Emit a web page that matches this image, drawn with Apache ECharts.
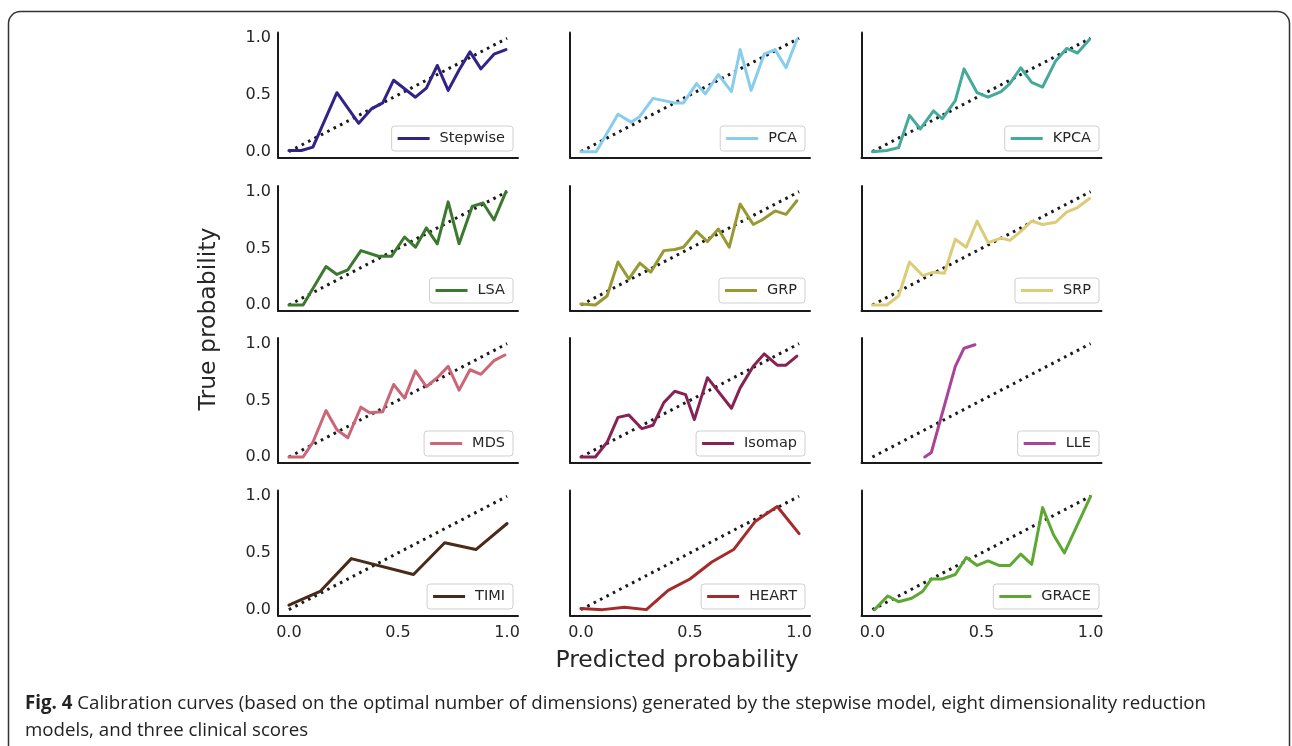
<!DOCTYPE html>
<html>
<head>
<meta charset="utf-8">
<title>Calibration curves</title>
<script src="https://cdn.jsdelivr.net/npm/echarts@6/dist/echarts.min.js"></script>
<style>
  html, body { margin: 0; padding: 0; background: #ffffff; }
  #chart { width: 1292px; height: 746px; }
</style>
</head>
<body>
<div id="chart"></div>
<script>
// Model names in panel order (row by row)
const modelNames = ['Stepwise', 'PCA', 'KPCA', 'LSA', 'GRP', 'SRP', 'MDS', 'Isomap', 'LLE', 'TIMI', 'HEART', 'GRACE'];
const modelColors = ['#332288', '#88CCEE', '#44AA99', '#3B7A2E', '#999933', '#DDCC77', '#CC6677', '#882255', '#AA4499', '#4A2A18', '#A52A2A', '#5DA832'];

// Mean predicted probability (x) and fraction of positives (y) per bin
const stepwiseX = [0.0, 0.057, 0.11, 0.22, 0.32, 0.38, 0.43, 0.48, 0.58, 0.63, 0.68, 0.73, 0.78, 0.83, 0.88, 0.94, 0.995];
const stepwiseY = [0.01, 0.01, 0.04, 0.52, 0.25, 0.38, 0.43, 0.63, 0.48, 0.56, 0.76, 0.54, 0.72, 0.88, 0.73, 0.86, 0.90];

const pcaX = [0.0, 0.07, 0.17, 0.23, 0.27, 0.33, 0.43, 0.47, 0.53, 0.57, 0.63, 0.69, 0.73, 0.78, 0.84, 0.89, 0.94, 0.99];
const pcaY = [0.0, 0.0, 0.33, 0.26, 0.31, 0.47, 0.43, 0.43, 0.60, 0.51, 0.68, 0.53, 0.90, 0.54, 0.86, 0.90, 0.74, 0.99];

const kpcaX = [0.0, 0.066, 0.12, 0.17, 0.22, 0.28, 0.32, 0.38, 0.42, 0.48, 0.53, 0.59, 0.63, 0.68, 0.73, 0.78, 0.84, 0.89, 0.94, 0.995];
const kpcaY = [0.0, 0.01, 0.035, 0.32, 0.20, 0.36, 0.29, 0.45, 0.73, 0.52, 0.48, 0.53, 0.60, 0.74, 0.61, 0.57, 0.80, 0.91, 0.87, 0.99];

const lsaX = [0.0, 0.065, 0.17, 0.22, 0.27, 0.33, 0.41, 0.47, 0.53, 0.58, 0.63, 0.68, 0.73, 0.78, 0.84, 0.89, 0.94, 0.995];
const lsaY = [0.0, 0.0, 0.34, 0.27, 0.31, 0.48, 0.43, 0.43, 0.60, 0.51, 0.68, 0.54, 0.91, 0.54, 0.87, 0.90, 0.75, 1.0];

const grpX = [0.0, 0.066, 0.12, 0.17, 0.22, 0.27, 0.32, 0.38, 0.43, 0.47, 0.53, 0.58, 0.63, 0.68, 0.73, 0.79, 0.83, 0.89, 0.94, 0.99];
const grpY = [0.01, 0.0, 0.08, 0.38, 0.23, 0.37, 0.29, 0.48, 0.49, 0.51, 0.65, 0.56, 0.67, 0.51, 0.89, 0.71, 0.75, 0.83, 0.80, 0.92];

const srpX = [0.0, 0.066, 0.12, 0.17, 0.23, 0.28, 0.33, 0.38, 0.43, 0.48, 0.53, 0.59, 0.63, 0.68, 0.73, 0.78, 0.84, 0.89, 0.94, 0.995];
const srpY = [0.0, 0.0, 0.08, 0.38, 0.26, 0.29, 0.28, 0.58, 0.51, 0.74, 0.55, 0.59, 0.57, 0.65, 0.74, 0.71, 0.73, 0.82, 0.86, 0.94];

const mdsX = [0.0, 0.065, 0.11, 0.17, 0.22, 0.27, 0.33, 0.37, 0.43, 0.48, 0.53, 0.58, 0.63, 0.68, 0.73, 0.78, 0.83, 0.88, 0.94, 0.99];
const mdsY = [0.0, 0.0, 0.13, 0.41, 0.24, 0.17, 0.44, 0.39, 0.40, 0.64, 0.52, 0.76, 0.62, 0.70, 0.80, 0.59, 0.77, 0.73, 0.85, 0.90];

const isomapX = [0.0, 0.066, 0.12, 0.17, 0.22, 0.28, 0.33, 0.38, 0.43, 0.48, 0.52, 0.58, 0.69, 0.73, 0.79, 0.84, 0.90, 0.94, 0.99];
const isomapY = [0.0, 0.0, 0.13, 0.35, 0.37, 0.25, 0.28, 0.48, 0.58, 0.55, 0.33, 0.70, 0.43, 0.61, 0.80, 0.91, 0.81, 0.81, 0.89];

const lleX = [0.24, 0.27, 0.38, 0.42, 0.47];
const lleY = [0.0, 0.04, 0.80, 0.96, 0.99];

const timiX = [0.0, 0.143, 0.286, 0.571, 0.714, 0.857, 1.0];
const timiY = [0.04, 0.16, 0.45, 0.31, 0.59, 0.53, 0.76];

const heartX = [0.0, 0.1, 0.2, 0.3, 0.4, 0.5, 0.6, 0.7, 0.8, 0.9, 1.0];
const heartY = [0.01, 0.0, 0.02, 0.0, 0.17, 0.27, 0.42, 0.53, 0.78, 0.91, 0.67];

const graceX = [0.01, 0.07, 0.12, 0.18, 0.23, 0.27, 0.32, 0.38, 0.43, 0.48, 0.53, 0.58, 0.63, 0.68, 0.73, 0.78, 0.83, 0.88, 1.0];
const graceY = [0.0, 0.12, 0.07, 0.10, 0.16, 0.27, 0.27, 0.31, 0.46, 0.39, 0.43, 0.39, 0.39, 0.49, 0.40, 0.90, 0.66, 0.50, 1.0];

const curveX = [stepwiseX, pcaX, kpcaX, lsaX, grpX, srpX, mdsX, isomapX, lleX, timiX, heartX, graceX];
const curveY = [stepwiseY, pcaY, kpcaY, lsaY, grpY, srpY, mdsY, isomapY, lleY, timiY, heartY, graceY];

// Perfect calibration diagonal
const diagonal = [[0, 0], [1, 1]];
const tickValues = [0, 0.5, 1.0];

const captionBold = 'Fig. 4';
const captionLine1 = ' Calibration curves (based on the optimal number of dimensions) generated by the stepwise model, eight dimensionality reduction';
const captionLine2 = 'models, and three clinical scores';

// Panel layout (pixels)
const colLeft = [278, 570, 861.5];
const rowTop = [32.6, 186, 338, 490.6];
const panelW = 240;
const panelH = 124.7;
const legendTop = [126, 278, 431, 584];
const legendRight = [779, 487, 193];

const font = 'DejaVu Sans';
const ink = '#262626';

const grids = [], xAxes = [], yAxes = [], series = [], legends = [];
modelNames.forEach((name, i) => {
  const r = Math.floor(i / 3), c = i % 3;
  grids.push({ left: colLeft[c], top: rowTop[r], width: panelW, height: panelH, containLabel: false });
  xAxes.push({
    type: 'value', gridIndex: i, min: -0.05, max: 1.05,
    axisLine: { show: true, onZero: false, lineStyle: { color: '#1a1a1a', width: 2 } },
    axisTick: { show: false }, splitLine: { show: false },
    axisLabel: { show: r === 3, customValues: tickValues, formatter: v => v.toFixed(1),
      fontFamily: font, fontSize: 16, color: ink, margin: 10 }
  });
  yAxes.push({
    type: 'value', gridIndex: i, min: -0.05, max: 1.05,
    axisLine: { show: true, onZero: false, lineStyle: { color: '#1a1a1a', width: 2 } },
    axisTick: { show: false }, splitLine: { show: false },
    axisLabel: { show: c === 0, customValues: tickValues, formatter: v => v.toFixed(1),
      fontFamily: font, fontSize: 16, color: ink, margin: 7 }
  });
  series.push({
    name: 'Perfectly calibrated ' + i, type: 'line', xAxisIndex: i, yAxisIndex: i,
    data: diagonal, symbol: 'none', silent: true, z: 2,
    lineStyle: { color: '#1a1a1a', width: 3, type: [2.6, 4.6], cap: 'butt' }
  });
  series.push({
    name: name, type: 'line', xAxisIndex: i, yAxisIndex: i,
    data: curveX[i].map((x, k) => [x, curveY[i][k]]),
    symbol: 'none', z: 3, color: modelColors[i],
    lineStyle: { color: modelColors[i], width: 3, join: 'round', cap: 'round' }
  });
  legends.push({
    data: [name], right: legendRight[c], top: legendTop[r], orient: 'horizontal',
    icon: 'rect', itemWidth: 32, itemHeight: 3,
    backgroundColor: 'rgba(255,255,255,0.85)', borderColor: '#cfcfcf', borderWidth: 1, borderRadius: 3,
    padding: [5, 8, 5, 6], selectedMode: false,
    textStyle: { fontFamily: font, fontSize: 14.5, color: ink, padding: [0, 0, 0, 5] }
  });
});

const chart = echarts.init(document.getElementById('chart'), null, { renderer: 'canvas' });
chart.setOption({
  backgroundColor: '#ffffff',
  animation: false,
  grid: grids, xAxis: xAxes, yAxis: yAxes, series: series, legend: legends,
  graphic: [
    { type: 'rect', z: 0, silent: true,
      shape: { x: 8.5, y: 11.5, width: 1281, height: 770, r: 12 },
      style: { fill: 'none', stroke: '#333333', lineWidth: 1.5 } },
    { type: 'text', silent: true, rotation: Math.PI / 2, x: 209, y: 319,
      style: { text: 'True probability', font: '23.5px "DejaVu Sans"', fill: ink, align: 'center', verticalAlign: 'middle' } },
    { type: 'text', silent: true, x: 677, y: 661,
      style: { text: 'Predicted probability', font: '23.5px "DejaVu Sans"', fill: ink, align: 'center', verticalAlign: 'middle' } },
    { type: 'text', silent: true, x: 25, y: 704,
      style: { text: '{b|' + captionBold + '}' + captionLine1, font: '18.7px "Open Sans"', fill: '#222222',
        align: 'left', verticalAlign: 'middle',
        rich: { b: { fontWeight: 'bold', fontFamily: 'Open Sans', fontSize: 18.7, fill: '#222222' } } } },
    { type: 'text', silent: true, x: 25, y: 731,
      style: { text: captionLine2, font: '18.7px "Open Sans"', fill: '#222222', align: 'left', verticalAlign: 'middle' } }
  ]
});
</script>
</body>
</html>
